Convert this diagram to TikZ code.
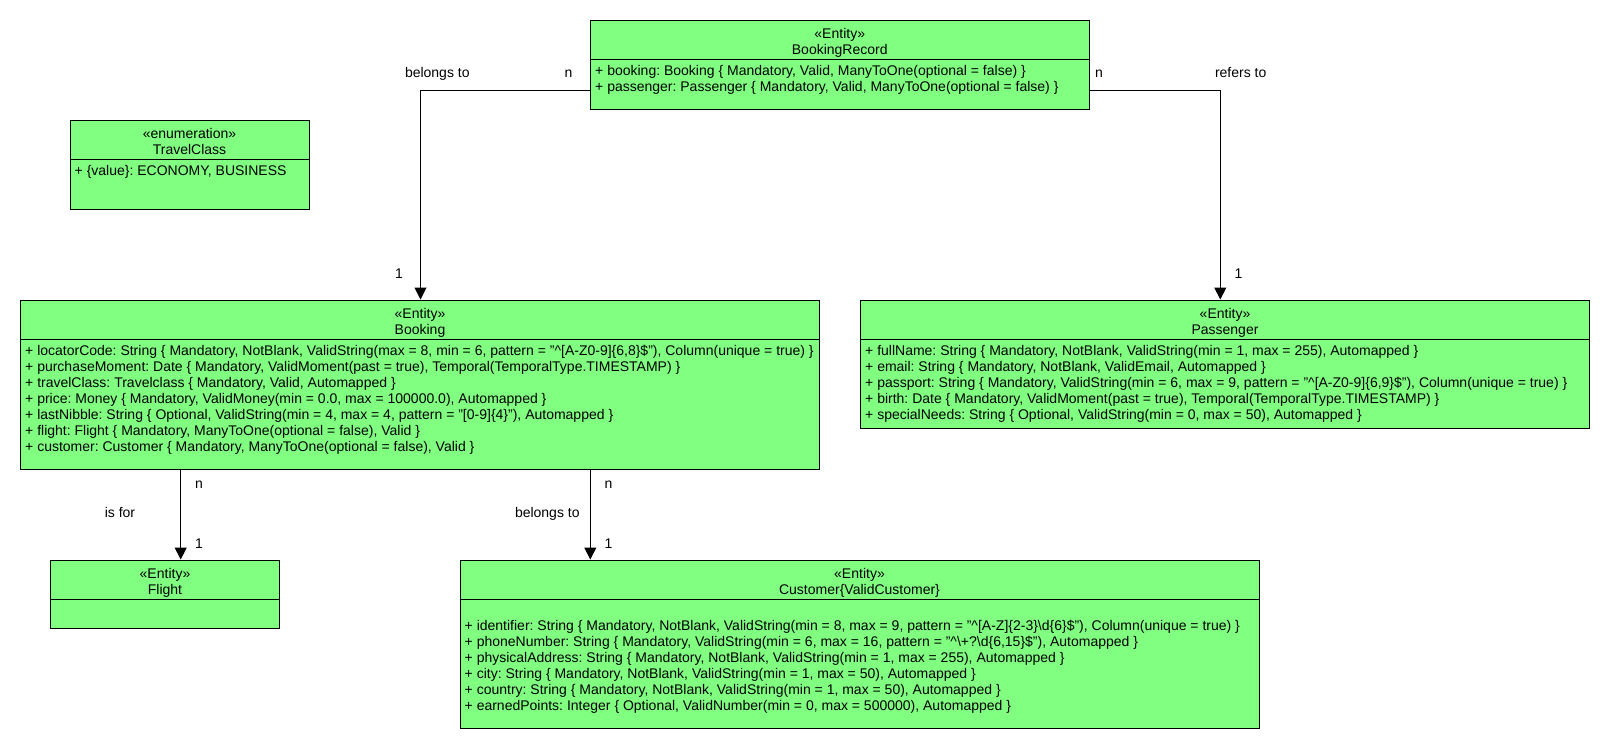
\documentclass[tikz,border=0pt]{standalone}
\usepackage{fontspec}
\setmainfont{Liberation Sans}
\usetikzlibrary{arrows.meta,calc}
\definecolor{umlgreen}{RGB}{128,255,128}
\frenchspacing
\newcommand\uf{\fontsize{14}{16}\selectfont\frenchspacing}
\tikzset{
  classbox/.style={draw=black, fill=umlgreen, line width=1pt, inner sep=0pt, anchor=center},
  sepline/.style={draw=black, line width=1pt},
  hdr/.style={inner sep=0pt, font=\uf, anchor=base},
  attr/.style={inner sep=0pt, font=\uf, anchor=base west},
  lbl/.style={inner sep=0pt, font=\uf, anchor=base},
  assoc/.style={draw=black, line width=1pt, -{Triangle[length=12pt,width=12pt]}},
}
% name, x1, y1, x2, y2, separator y, stereotype, title
\newcommand\umlbox[8]{%
  \node[classbox, minimum width={#4-#2}, minimum height={#5-#3}] (#1) at ({(#2+#4)/2},{(#3+#5)/2}) {};
  \draw[sepline] (#1.west |- 0,#6) -- (#1.east |- 0,#6);
  \node[hdr] (#1-s) at ({(#2+#4)/2},{#3+18}) {#7};
  \node[hdr] (#1-t) at ({(#2+#4)/2},{#3+34.3}) {#8};
}
\begin{document}
\begin{tikzpicture}[x=1pt,y=-1pt]
\useasboundingbox (0,0) rectangle (1610,750);
\fill[white] (0,0) rectangle (1610,750);

% BookingRecord
\umlbox{BR}{590.5}{20.5}{1089}{109}{59.5}{«Entity»}{BookingRecord}
\foreach \t [count=\i] in {
  {+ booking: Booking \{ Mandatory, Valid, ManyToOne(optional = false) \}},
  {+ passenger: Passenger \{ Mandatory, Valid, ManyToOne(optional = false) \}}}
  \node[attr] (BR-a\i) at (595, {59.5+16.3+16*(\i-1)}) {\t};

% TravelClass
\umlbox{TC}{70}{120.5}{309}{209}{159.3}{«enumeration»}{TravelClass}
\node[attr] (TC-a1) at (74.5, 175.5) {+ \{value\}: ECONOMY, BUSINESS};

% Booking
\umlbox{BK}{20.5}{300}{819.5}{469}{339.5}{«Entity»}{Booking}
\foreach \t [count=\i] in {
  {+ locatorCode: String \{ Mandatory, NotBlank, ValidString(max = 8, min = 6, pattern = "\textasciicircum[A-Z0-9]\{6,8\}\$"), Column(unique = true) \}},
  {+ purchaseMoment: Date \{ Mandatory, ValidMoment(past = true), Temporal(TemporalType.TIMESTAMP) \}},
  {+ travelClass: Travelclass \{ Mandatory, Valid, Automapped \}},
  {+ price: Money \{ Mandatory, ValidMoney(min = 0.0, max = 100000.0), Automapped \}},
  {+ lastNibble: String \{ Optional, ValidString(min = 4, max = 4, pattern = "[0-9]\{4\}"), Automapped \}},
  {+ flight: Flight \{ Mandatory, ManyToOne(optional = false), Valid \}},
  {+ customer: Customer \{ Mandatory, ManyToOne(optional = false), Valid \}}}
  \node[attr] (BK-a\i) at (25, {339.5+15.8+16*(\i-1)}) {\t};

% Passenger
\umlbox{PS}{860.5}{300}{1589.5}{428}{339.5}{«Entity»}{Passenger}
\foreach \t [count=\i] in {
  {+ fullName: String \{ Mandatory, NotBlank, ValidString(min = 1, max = 255), Automapped \}},
  {+ email: String \{ Mandatory, NotBlank, ValidEmail, Automapped \}},
  {+ passport: String \{ Mandatory, ValidString(min = 6, max = 9, pattern = "\textasciicircum[A-Z0-9]\{6,9\}\$"), Column(unique = true) \}},
  {+ birth: Date \{ Mandatory, ValidMoment(past = true), Temporal(TemporalType.TIMESTAMP) \}},
  {+ specialNeeds: String \{ Optional, ValidString(min = 0, max = 50), Automapped \}}}
  \node[attr] (PS-a\i) at (865, {339.5+15.8+16*(\i-1)}) {\t};

% Flight
\umlbox{FL}{50.5}{560}{279.5}{628.8}{599}{«Entity»}{Flight}

% Customer
\umlbox{CU}{460}{560}{1259}{728.5}{599}{«Entity»}{Customer\{ValidCustomer\}}
\foreach \t [count=\i] in {
  {+ identifier: String \{ Mandatory, NotBlank, ValidString(min = 8, max = 9, pattern = "\textasciicircum[A-Z]\{2-3\}\textbackslash d\{6\}\$"), Column(unique = true) \}},
  {+ phoneNumber: String \{ Mandatory, ValidString(min = 6, max = 16, pattern = "\textasciicircum\textbackslash+?\textbackslash d\{6,15\}\$"), Automapped \}},
  {+ physicalAddress: String \{ Mandatory, NotBlank, ValidString(min = 1, max = 255), Automapped \}},
  {+ city: String \{ Mandatory, NotBlank, ValidString(min = 1, max = 50), Automapped \}},
  {+ country: String \{ Mandatory, NotBlank, ValidString(min = 1, max = 50), Automapped \}},
  {+ earnedPoints: Integer \{ Optional, ValidNumber(min = 0, max = 500000), Automapped \}}}
  \node[attr] (CU-a\i) at (464.5, {599+31.8+16*(\i-1)}) {\t};

% Connectors
\draw[assoc] ($(BR.south west)+(0,-18.7)$) -| (BK.north -| 420.5,0);
\draw[assoc] ($(BR.south east)+(0,-18.7)$) -| (PS.north -| 1220.3,0);
\draw[assoc] (BK.south -| 180.7,0) -- (FL.north -| 180.7,0);
\draw[assoc] (BK.south -| 590.3,0) -- (CU.north -| 590.3,0);

% Labels
\node[lbl] (l1) at (437.3, 77.5) {belongs to};
\node[lbl] (l2) at (568.5, 77.5) {n};
\node[lbl] (l3) at (399, 278.8) {1};
\node[lbl] (l4) at (1099, 77.5) {n};
\node[lbl] (l5) at (1240.7, 77.5) {refers to};
\node[lbl] (l6) at (1238.5, 278.8) {1};
\node[lbl] (l7) at (199, 488) {n};
\node[lbl] (l8) at (120, 517.5) {is for};
\node[lbl] (l9) at (199, 548.2) {1};
\node[lbl] (l10) at (608.5, 488) {n};
\node[lbl] (l11) at (547.3, 517.5) {belongs to};
\node[lbl] (l12) at (608.5, 548.2) {1};
\end{tikzpicture}
\end{document}
